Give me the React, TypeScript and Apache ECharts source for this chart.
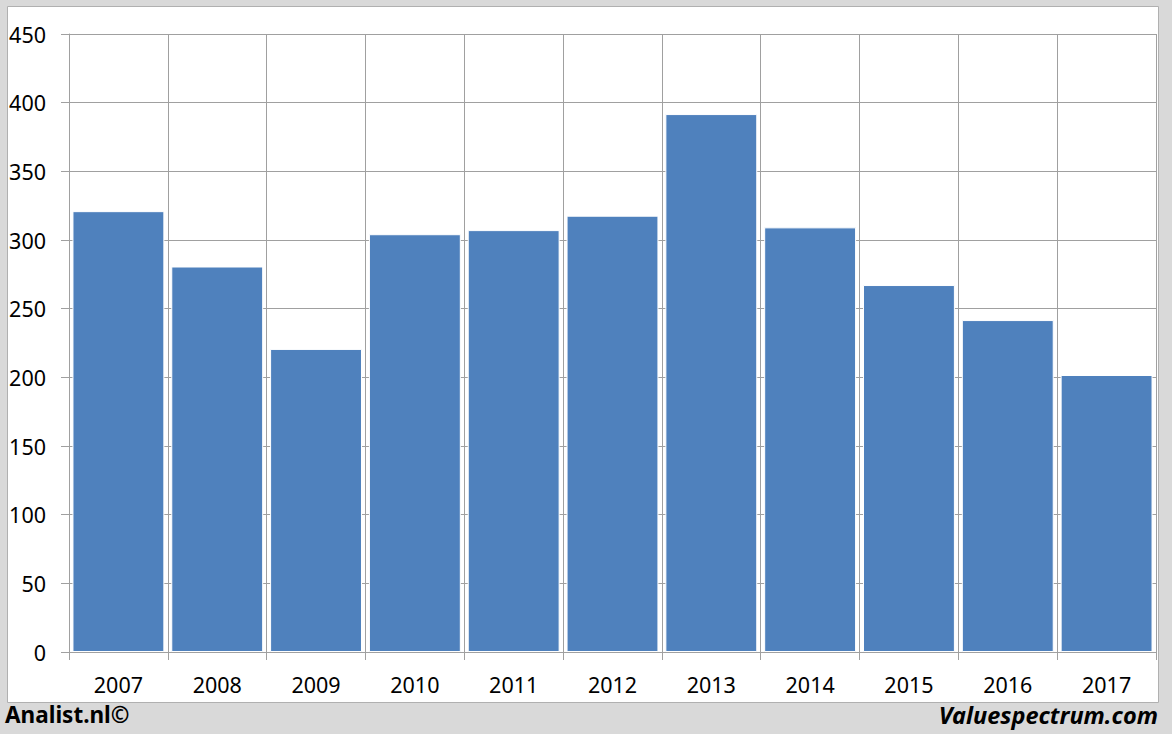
import React, { useEffect, useRef } from "react";
import * as echarts from "echarts";

const years = ["2007", "2008", "2009", "2010", "2011", "2012", "2013", "2014", "2015", "2016", "2017"];
const values = [321, 280.7, 220.7, 304.2, 307.2, 317.7, 391.7, 309.2, 267.2, 241.7, 201.7];
const yTicks = { min: 0, max: 450, interval: 50 };
const footerLeft = "Analist.nl©";
const footerRight = "Valuespectrum.com";

export default function App() {
  const ref = useRef<HTMLDivElement>(null);
  useEffect(() => {
    document.body.style.margin = "0";
    const chart = echarts.init(ref.current!, null, { renderer: "svg" });
    const font = "'Noto Sans', 'Open Sans', sans-serif";
    chart.setOption({
      animation: false,
      backgroundColor: "#d9d9d9",
      graphic: [
        {
          type: "rect",
          z: -10,
          shape: { x: 7.5, y: 6.5, width: 1151, height: 696 },
          style: { fill: "#ffffff", stroke: "#b0b0b0", lineWidth: 1 },
        },
        {
          type: "text",
          left: 5,
          top: 703,
          style: { text: footerLeft, font: `bold 22.5px ${font}`, fill: "#000" },
        },
        {
          type: "text",
          right: 14,
          top: 703,
          style: { text: footerRight, font: `italic bold 23.5px ${font}`, fill: "#000" },
        },
      ],
      grid: { left: 69, right: 16, top: 34, bottom: 82 },
      xAxis: {
        type: "category",
        data: years,
        boundaryGap: true,
        axisLine: { show: true, lineStyle: { color: "#a0a0a0", width: 1 } },
        axisTick: { show: true, length: 8, lineStyle: { color: "#a0a0a0" } },
        axisLabel: { color: "#000", fontSize: 21.5, fontFamily: font, margin: 21 },
        splitLine: { show: true, lineStyle: { color: "#a0a0a0", width: 1 } },
      },
      yAxis: {
        type: "value",
        min: yTicks.min,
        max: yTicks.max,
        interval: yTicks.interval,
        axisLine: { show: true, lineStyle: { color: "#a0a0a0", width: 1 } },
        axisTick: { show: true, length: 8, lineStyle: { color: "#a0a0a0" } },
        axisLabel: { color: "#000", fontSize: 21.5, fontFamily: font, margin: 23 },
        splitLine: { show: true, lineStyle: { color: "#a0a0a0", width: 1 } },
      },
      series: [
        {
          type: "bar",
          data: values,
          barCategoryGap: "7%",
          itemStyle: { color: "#4f81bd", borderColor: "#ffffff", borderWidth: 1 },
        },
      ],
    });
    return () => chart.dispose();
  }, []);
  return <div ref={ref} style={{ width: 1172, height: 734, position: "absolute", left: 0, top: 0 }} />;
}
